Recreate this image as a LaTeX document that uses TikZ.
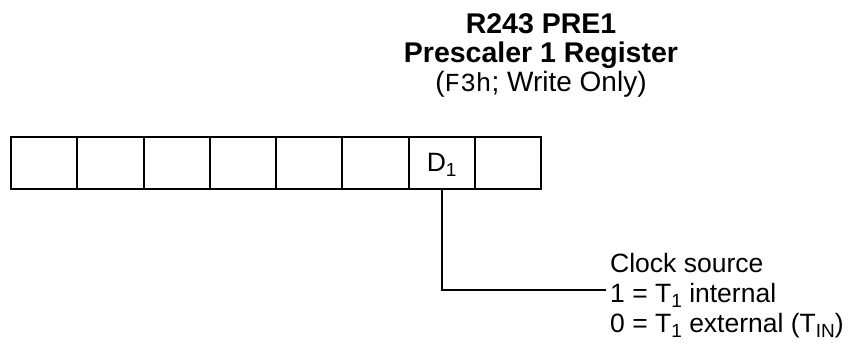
\documentclass[tikz,border=0pt]{standalone}
\usepackage{fontspec}
\setmainfont{Liberation Sans}
\setmonofont{Liberation Mono}
\newcommand\lowsub[1]{\raisebox{-5.5pt}{\fontsize{19}{19}\selectfont #1}}
\begin{document}
\begin{tikzpicture}[x=1pt,y=-1pt,
  cell/.style={draw,line width=2pt,minimum width=66.25pt,minimum height=52pt,inner sep=0pt,outer sep=0pt,anchor=north west},
  ttl/.style={font=\fontsize{28.5}{35}\selectfont\bfseries,anchor=base,inner sep=0pt},
  sub/.style={font=\fontsize{28}{35}\selectfont,anchor=base,inner sep=0pt},
  body/.style={font=\fontsize{26.5}{31}\selectfont,anchor=base west,inner sep=0pt},
  conn/.style={line width=2pt}]
\useasboundingbox (0,0) rectangle (857,343);
\node[ttl] (t1) at (541,33) {R243 PRE1};
\node[ttl] (t2) at (541,62) {Prescaler 1 Register};
\node[sub] (t3) at (541,91) {({\fontsize{26}{30}\selectfont\ttfamily F3h}; Write Only)};
\foreach \i in {1,...,8}{
  \node[cell] (c\i) at ({11+(\i-1)*66.25},137) {};
}
\node[font=\fontsize{26.5}{31}\selectfont,inner sep=0pt,anchor=base] (d1) at (c7.center |- 0,171) {D\lowsub{1}};
\node[body] (l1) at (610,272) {Clock source};
\node[body] (l2) at (610,302) {1 = T\lowsub{1} internal};
\node[body] (l3) at (610,332) {0 = T\lowsub{1} external (T\lowsub{IN})};
\coordinate (e) at (606,290);
\draw[conn] (c7.south) |- (e);
\end{tikzpicture}
\end{document}
